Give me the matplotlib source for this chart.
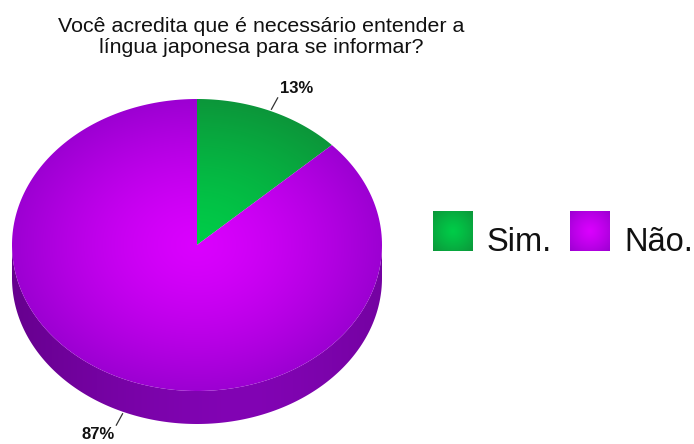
import numpy as np
import matplotlib.pyplot as plt
from matplotlib.patches import Polygon
from matplotlib.colors import to_rgb

plt.rcParams['font.family'] = ['Liberation Sans', 'DejaVu Sans']

title = "Você acredita que é necessário entender a\nlíngua japonesa para se informar?"
labels = ["Sim.", "Não."]
values = [13, 87]
top_light = ["#00cc48", "#da00fe"]
top_dark = ["#0c963a", "#9c00d2"]
side_light = ["#087a30", "#8204b4"]
side_dark = ["#05561f", "#66008e"]

W, H = 694, 444
cx, cy, rx, ry, depth = 197, 245, 185, 146, 33

fig = plt.figure(figsize=(W / 100, H / 100), dpi=100)
ax = fig.add_axes([0, 0, 1, 1])
ax.set_xlim(0, W)
ax.set_ylim(H, 0)
ax.axis('off')

X, Y = np.meshgrid(np.arange(W) + 0.5, np.arange(H) + 0.5)


def ellipse_pts(t0, t1, dy=0, n=240):
    t = np.linspace(t0, t1, n)
    return np.column_stack([cx + rx * np.cos(t), cy - ry * np.sin(t) + dy])


def blend(c1, c2, m):
    a, b = np.array(to_rgb(c1)), np.array(to_rgb(c2))
    return a * (1 - m[..., None]) + b * m[..., None]


def shaded(img, verts):
    patch = Polygon(verts, closed=True, facecolor='none', edgecolor='none')
    ax.add_patch(patch)
    im = ax.imshow(img, extent=(0, W, H, 0), origin='upper', interpolation='bilinear', zorder=1)
    im.set_clip_path(patch)


r = np.clip(np.hypot((X - cx) / rx, (Y - cy) / ry), 0, 1)
xs = np.clip((X - (cx - rx)) / (2 * rx), 0, 1)

total = sum(values)
start = np.pi / 2
slices = []
for v in values:
    span = 2 * np.pi * v / total
    slices.append((start - span, start))
    start -= span

# side walls: only the front half (sin t < 0) faces the viewer
for (a, b), lo, hi in zip(slices, side_dark, side_light):
    for k in (-1, 0, 1):
        s0 = max(a, -np.pi + 2 * np.pi * k)
        s1 = min(b, 0 + 2 * np.pi * k)
        if s1 <= s0:
            continue
        verts = np.vstack([ellipse_pts(s1, s0), ellipse_pts(s0, s1, dy=depth)])
        m = np.abs(xs - 0.62) / 0.62
        shaded(blend(hi, lo, np.clip(m, 0, 1) ** 1.5), verts)

# top faces
for (a, b), light, dark in zip(slices, top_light, top_dark):
    verts = np.vstack([[cx, cy], ellipse_pts(b, a)])
    shaded(blend(light, dark, r ** 1.4), verts)

# percentage labels with leader lines
for (a, b), v in zip(slices, values):
    mid = (a + b) / 2
    ex, ey = cx + rx * np.cos(mid), cy - ry * np.sin(mid)
    if np.sin(mid) < 0:
        ey += depth
    d = np.array([rx * np.cos(mid), -ry * np.sin(mid)])
    d /= np.hypot(*d)
    p0 = np.array([ex, ey]) + d * 2
    p1 = np.array([ex, ey]) + d * 15
    ax.plot([p0[0], p1[0]], [p0[1], p1[1]], color='#333333', lw=0.9, zorder=3)
    ha = 'left' if d[0] > 0 else 'right'
    va = 'bottom' if d[1] < 0 else 'top'
    ax.text(p1[0] + 2 * np.sign(d[0]), p1[1] + 2 * np.sign(d[1]), f"{v}%",
            ha=ha, va=va, fontsize=12, fontweight='bold', color='#111111', zorder=3)

ax.text(261, 37, title, ha='center', va='center', fontsize=15.4,
        linespacing=1.07, color='#111111')

# legend with shaded squares
legend_x = [433, 570]
sq_y, sq = 211, 40
for x0, lab, light, dark in zip(legend_x, labels, top_light, top_dark):
    rr = np.clip(np.hypot(X - (x0 + sq / 2), Y - (sq_y + sq / 2)) / (sq * 0.7), 0, 1)
    verts = [[x0, sq_y], [x0 + sq, sq_y], [x0 + sq, sq_y + sq], [x0, sq_y + sq]]
    shaded(blend(light, dark, rr ** 1.2), verts)
    ax.text(x0 + sq + 14, sq_y + sq, lab, ha='left', va='baseline',
            fontsize=23.5, color='#111111')

fig.savefig('out.png', dpi=100, facecolor='white')
